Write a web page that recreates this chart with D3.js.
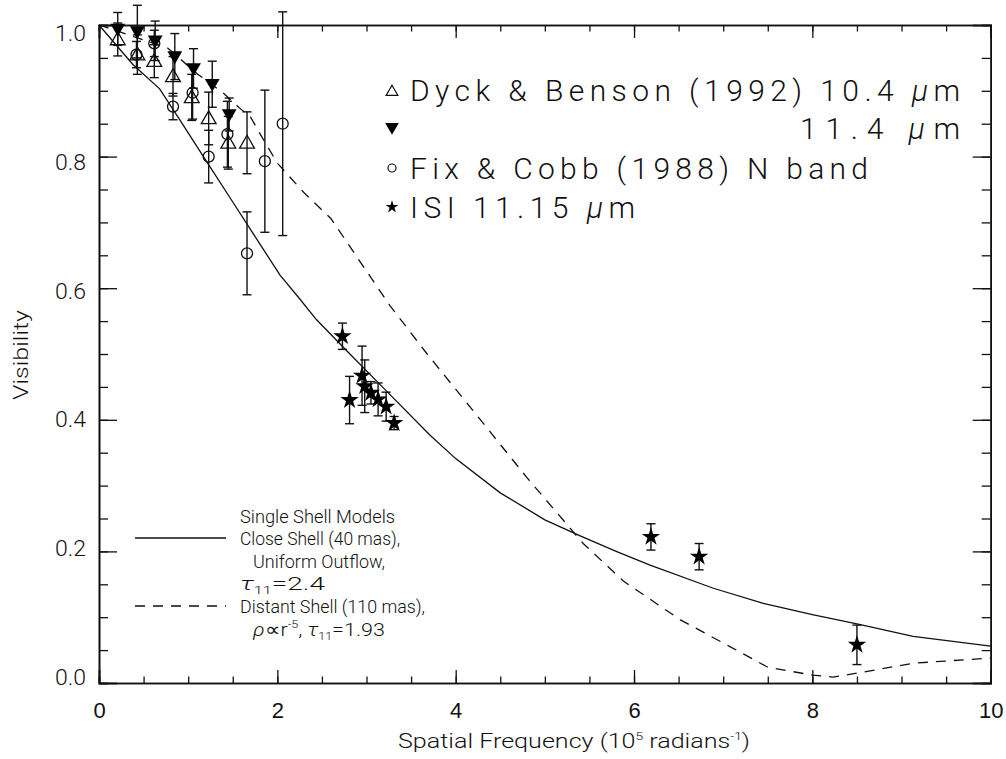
<!DOCTYPE html>
<html>
<head>
<meta charset="utf-8">
<script src="https://cdn.jsdelivr.net/npm/d3@7"></script>
<style>
  body { margin: 0; background: #fff; }
  svg { display: block; font-family: Roboto, "DejaVu Sans", sans-serif; font-weight: 300; }
  text { fill: #111; }
</style>
</head>
<body>
<svg id="chart" width="1006" height="759"></svg>
<script>
// Dyck & Benson (1992) 10.4 um, open triangles
var dyck104_x = [0.21, 0.43, 0.62, 0.83, 1.04, 1.23, 1.45, 1.66];
var dyck104_y = [0.978, 0.955, 0.945, 0.922, 0.890, 0.858, 0.821, 0.821];
var dyck104_e = [0.025, 0.03, 0.025, 0.03, 0.035, 0.04, 0.04, 0.047];

// Dyck & Benson (1992) 11.4 um, filled triangles
var dyck114_x = [0.21, 0.43, 0.63, 0.85, 1.06, 1.27, 1.46];
var dyck114_y = [0.994, 0.990, 0.976, 0.952, 0.934, 0.910, 0.864];
var dyck114_e = [0.025, 0.04, 0.03, 0.035, 0.03, 0.035, 0.025];

// Fix & Cobb (1988) N band, open circles
var fix_x = [0.42, 0.62, 0.83, 1.05, 1.23, 1.44, 1.66, 1.86, 2.06];
var fix_y = [0.955, 0.972, 0.876, 0.897, 0.800, 0.834, 0.653, 0.793, 0.850];
var fix_e = [0.02, 0.02, 0.02, 0.04, 0.04, 0.05, 0.063, 0.108, 0.17];

// ISI 11.15 um, stars
var isi_x = [2.73, 2.81, 2.95, 2.98, 3.05, 3.13, 3.22, 3.31, 6.19, 6.73, 8.50];
var isi_y = [0.527, 0.430, 0.467, 0.451, 0.441, 0.431, 0.420, 0.395, 0.222, 0.192, 0.058];
var isi_e = [0.02, 0.036, 0.045, 0.04, 0.017, 0.025, 0.022, 0.01, 0.02, 0.02, 0.03];

// model curves
var close_x = [0, 0.38, 0.68, 0.91, 1.2, 1.5, 1.8, 2.03, 2.25, 2.44, 2.8, 3.2, 3.71, 4.0, 4.5, 5.0, 5.39, 5.8, 6.18, 6.89, 7.45, 8.0, 8.5, 9.13, 10];
var close_y = [1.0, 0.94, 0.903, 0.855, 0.794, 0.731, 0.668, 0.62, 0.584, 0.552, 0.502, 0.447, 0.377, 0.341, 0.289, 0.248, 0.224, 0.200, 0.179, 0.144, 0.121, 0.104, 0.09, 0.071, 0.056];
var distant_x = [0, 0.77, 1.10, 1.39, 1.6, 1.7, 1.8, 2.0, 2.3, 2.6, 3.26, 3.68, 4.2, 4.8, 5.43, 5.88, 6.52, 7.08, 7.5, 8.0, 8.23, 8.5, 9.13, 10];
var distant_y = [1.0, 0.965, 0.926, 0.897, 0.871, 0.86, 0.836, 0.79, 0.745, 0.706, 0.574, 0.50, 0.413, 0.312, 0.212, 0.155, 0.096, 0.055, 0.024, 0.012, 0.009, 0.015, 0.030, 0.038];

var x_ticks = [0, 2, 4, 6, 8, 10];
var y_ticks = [0.0, 0.2, 0.4, 0.6, 0.8, 1.0];

var svg = d3.select('#chart');
var x = d3.scaleLinear().domain([0, 10]).range([99, 990.7]);
var y = d3.scaleLinear().domain([0, 1]).range([683, 25]);
// tick labels sit a little off the ticks in the original
var y_lab = d3.scaleLinear().domain([0, 1]).range([677, 33]);

function zip(xs, ys, es) {
   var out = [];
   for (var i = 0; i < xs.length; i++) out.push({x: xs[i], y: ys[i], e: es ? es[i] : 0});
   return out;
}

// stretch a text to the width it has in the original
function fit(sel, w, how) {
   return sel.attr('textLength', w).attr('lengthAdjust', how || 'spacingAndGlyphs');
}

function draw_axes() {
   var x_minor = d3.range(0, 10.01, 0.5), y_minor = d3.range(0, 1.001, 0.05);
   var g = svg.append('g').attr('class', 'axes');
   g.append('g').attr('transform', 'translate(0,683)')
      .call(d3.axisBottom(x).tickValues(x_minor).tickSize(-6.5).tickFormat(''));
   g.append('g').attr('transform', 'translate(0,683)')
      .call(d3.axisBottom(x).tickValues(x_ticks).tickSize(-13).tickPadding(19).tickFormat(d3.format('d')));
   g.append('g').attr('transform', 'translate(0,25)')
      .call(d3.axisTop(x).tickValues(x_minor).tickSize(-6.5).tickFormat(''));
   g.append('g').attr('transform', 'translate(0,25)')
      .call(d3.axisTop(x).tickValues(x_ticks).tickSize(-13).tickFormat(''));
   g.append('g').attr('transform', 'translate(99,0)')
      .call(d3.axisLeft(y).tickValues(y_minor).tickSize(-9).tickFormat(''));
   g.append('g').attr('transform', 'translate(99,0)')
      .call(d3.axisLeft(y).tickValues(y_ticks).tickSize(-18).tickFormat(''));
   g.append('g').attr('transform', 'translate(990.7,0)')
      .call(d3.axisRight(y).tickValues(y_minor).tickSize(-9).tickFormat(''));
   g.append('g').attr('transform', 'translate(990.7,0)')
      .call(d3.axisRight(y).tickValues(y_ticks).tickSize(-18).tickFormat(''));
   g.selectAll('.domain').attr('stroke', '#111').attr('stroke-width', 1.6);
   g.selectAll('.tick line').attr('stroke', '#111').attr('stroke-width', 1.3);
   g.selectAll('.tick text').attr('font-size', 22).attr('font-family', null).attr('fill', '#111');

   g.selectAll('.ylab').data(y_ticks).enter().append('text')
      .attr('x', 86).attr('y', function(d){ return y_lab(d); })
      .attr('dy', '0.36em').attr('text-anchor', 'end').attr('font-size', 22)
      .attr('textLength', 31).attr('lengthAdjust', 'spacingAndGlyphs')
      .text(d3.format('.1f'));

   fit(svg.append('text').attr('x', 398).attr('y', 748).attr('font-size', 20), 352)
      .html('Spatial Frequency (10<tspan dy="-8" font-size="11">5</tspan><tspan dy="8"> radians</tspan><tspan dy="-8" font-size="11">-1</tspan><tspan dy="8">)</tspan>');
   fit(svg.append('text').attr('transform', 'translate(28,355) rotate(-90)')
      .attr('text-anchor', 'middle').attr('font-size', 20), 90).text('Visibility');
}

function draw_curves() {
   var line = d3.line().x(function(d){ return x(d.x); }).y(function(d){ return y(d.y); });
   svg.append('path').datum(zip(close_x, close_y)).attr('d', line)
      .attr('fill', 'none').attr('stroke', '#111').attr('stroke-width', 1.3);
   svg.append('path').datum(zip(distant_x, distant_y)).attr('d', line)
      .attr('fill', 'none').attr('stroke', '#111').attr('stroke-width', 1.3)
      .attr('stroke-dasharray', '10,8');
}

function draw_errors(data) {
   var g = svg.append('g').attr('stroke', '#111').attr('stroke-width', 1.4);
   data.forEach(function(d){
      var cx = x(d.x), lo = y(d.y - d.e), hi = y(d.y + d.e);
      g.append('line').attr('x1', cx).attr('x2', cx).attr('y1', lo).attr('y2', hi);
      g.append('line').attr('x1', cx - 4.5).attr('x2', cx + 4.5).attr('y1', lo).attr('y2', lo);
      g.append('line').attr('x1', cx - 4.5).attr('x2', cx + 4.5).attr('y1', hi).attr('y2', hi);
   });
}

function draw_points() {
   var up = d3.symbol().type(d3.symbolTriangle).size(95);
   var star = d3.symbol().type(d3.symbolStar).size(105);
   var all = [zip(dyck104_x, dyck104_y, dyck104_e), zip(dyck114_x, dyck114_y, dyck114_e),
              zip(fix_x, fix_y, fix_e), zip(isi_x, isi_y, isi_e)];
   all.forEach(draw_errors);

   svg.append('g').selectAll('path').data(all[0]).enter().append('path')
      .attr('d', up).attr('transform', function(d){ return 'translate(' + x(d.x) + ',' + (y(d.y) + 1) + ')'; })
      .attr('fill', 'none').attr('stroke', '#111').attr('stroke-width', 1.3);
   svg.append('g').selectAll('path').data(all[1]).enter().append('path')
      .attr('d', up).attr('transform', function(d){ return 'translate(' + x(d.x) + ',' + (y(d.y) - 1) + ') rotate(180)'; })
      .attr('fill', '#000');
   svg.append('g').selectAll('circle').data(all[2]).enter().append('circle')
      .attr('cx', function(d){ return x(d.x); }).attr('cy', function(d){ return y(d.y); }).attr('r', 5.5)
      .attr('fill', 'none').attr('stroke', '#111').attr('stroke-width', 1.3);
   svg.append('g').selectAll('path').data(all[3]).enter().append('path')
      .attr('d', star).attr('transform', function(d){ return 'translate(' + x(d.x) + ',' + y(d.y) + ')'; })
      .attr('fill', '#000');
}

function draw_legends() {
   var g = svg.append('g');
   g.append('path').attr('d', d3.symbol().type(d3.symbolTriangle).size(60)())
      .attr('transform', 'translate(392,92)').attr('fill', 'none').attr('stroke', '#111').attr('stroke-width', 1.2);
   g.append('path').attr('d', d3.symbol().type(d3.symbolTriangle).size(80)())
      .attr('transform', 'translate(392,127) rotate(180)').attr('fill', '#000');
   g.append('circle').attr('cx', 392).attr('cy', 168).attr('r', 4)
      .attr('fill', 'none').attr('stroke', '#111').attr('stroke-width', 1.2);
   g.append('path').attr('d', d3.symbol().type(d3.symbolStar).size(50)())
      .attr('transform', 'translate(392,207)').attr('fill', '#000');

   var t = g.append('g').attr('font-size', 30);
   fit(t.append('text').attr('x', 410).attr('y', 101), 550, 'spacing')
      .html('Dyck &amp; Benson (1992) 10.4 <tspan font-style="italic">µ</tspan>m');
   fit(t.append('text').attr('x', 800).attr('y', 139), 160, 'spacing')
      .html('11.4 <tspan font-style="italic">µ</tspan>m');
   fit(t.append('text').attr('x', 410).attr('y', 179), 458, 'spacing')
      .text('Fix & Cobb (1988) N band');
   fit(t.append('text').attr('x', 410).attr('y', 218), 225, 'spacing')
      .html('ISI 11.15 <tspan font-style="italic">µ</tspan>m');

   g.append('line').attr('x1', 135).attr('x2', 226).attr('y1', 538).attr('y2', 538)
      .attr('stroke', '#111').attr('stroke-width', 1.3);
   g.append('line').attr('x1', 135).attr('x2', 226).attr('y1', 606).attr('y2', 606)
      .attr('stroke', '#111').attr('stroke-width', 1.3).attr('stroke-dasharray', '10,8');

   var b = g.append('g').attr('font-size', 19);
   fit(b.append('text').attr('x', 240).attr('y', 523), 155).text('Single Shell Models');
   fit(b.append('text').attr('x', 240).attr('y', 545), 160).text('Close Shell (40 mas),');
   fit(b.append('text').attr('x', 253).attr('y', 568), 132).text('Uniform Outflow,');
   fit(b.append('text').attr('x', 240).attr('y', 590), 85)
      .html('<tspan font-style="italic">τ</tspan><tspan dy="4" font-size="11">11</tspan><tspan dy="-4">=2.4</tspan>');
   fit(b.append('text').attr('x', 240).attr('y', 613), 185).text('Distant Shell (110 mas),');
   fit(b.append('text').attr('x', 253).attr('y', 636), 132)
      .html('<tspan font-style="italic">ρ</tspan>∝r<tspan dy="-8" font-size="11">-5</tspan><tspan dy="8">, </tspan><tspan font-style="italic">τ</tspan><tspan dy="4" font-size="11">11</tspan><tspan dy="-4">=1.93</tspan>');
}

draw_axes();
draw_curves();
draw_points();
draw_legends();
</script>
</body>
</html>
